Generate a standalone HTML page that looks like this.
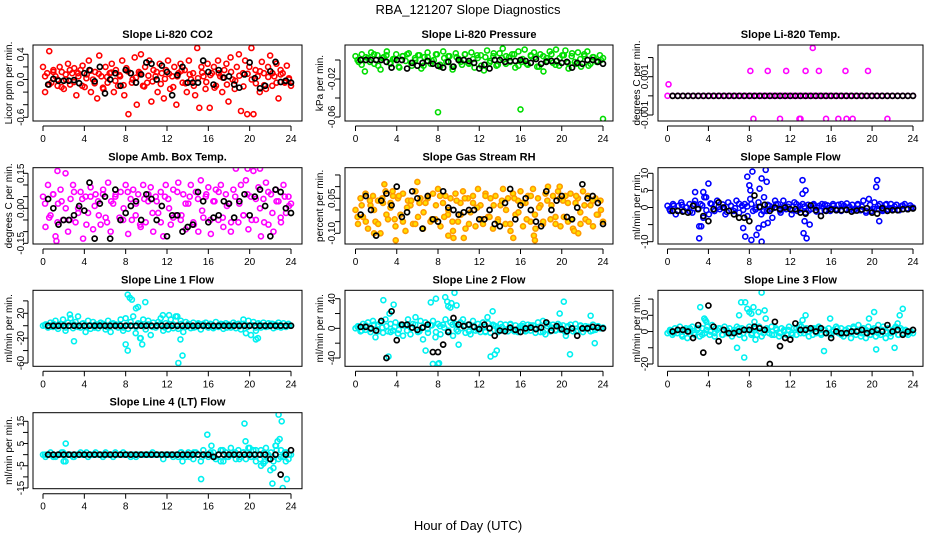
<!DOCTYPE html>
<html><head><meta charset="utf-8"><title>RBA_121207 Slope Diagnostics</title>
<style>
html,body{margin:0;padding:0;background:#fff;}
svg{display:block;font-family:"Liberation Sans",sans-serif;}
</style></head>
<body>
<svg id="chart" width="936" height="540" viewBox="0 0 936 540" xmlns="http://www.w3.org/2000/svg">
<text x="468" y="14" text-anchor="middle" font-size="13">RBA_121207  Slope Diagnostics</text>
<text x="468" y="530" text-anchor="middle" font-size="13">Hour of Day (UTC)</text>
</svg>
<script>
// ---- data ----
const hourTicks = [0,4,8,12,16,20,24];
const co2Band = [0.2,-0.2,0.1,0.45,-0.05,0.15,0.05,-0.1,0.2,0.12,-0.15,0.0,0.25,-0.08,0.1,0.18,-0.25,0.05,0.15,0.22,-0.12,0.08,0.3,-0.2,0.0,0.12,-0.3,0.38,0.05,-0.15,0.2,-0.05,0.1,0.25,-0.2,0.15,-0.1,0.05,0.3,-0.25,0.18,-0.55,0.1,0.0,0.35,-0.4,0.12,0.4,-0.1,0.2,-0.05,0.3,-0.35,0.15,0.05,-0.2,0.25,0.1,-0.3,0.15,0.3,-0.15,0.05,0.2,-0.4,0.1,0.25,-0.05,0.15,-0.2,0.3,0.0,0.1,-0.25,0.5,-0.45,0.2,0.05,-0.15,0.25,-0.45,0.1,0.2,-0.1,0.3,0.05,-0.2,0.15,0.25,-0.35,0.35,0.0,-0.15,0.2,0.4,-0.5,0.1,0.3,-0.55,0.2,0.5,-0.55,0.15,0.05,-0.2,0.28,0.1,-0.15,0.2,0.38,-0.1,0.05,0.25,-0.3,0.15,0.1,-0.05,0.22,0.0,-0.1];
const co2Core = [0.05,-0.08,0.12,0.0,-0.12,0.08,0.15,-0.04,0.1,-0.1,0.02,0.14,-0.06,0.09,-0.13,0.04,0.11,-0.02,0.07,-0.09,0.13,-0.05,0.03,0.1,-0.11,0.06,-0.03,0.12,-0.07,0.01,0.09,-0.12,0.05,0.14,-0.06,0.08,-0.1,0.02,0.11,-0.04,0.07,-0.13,0.1,0.03,-0.08,0.12,-0.02,0.06,-0.11,0.09,0.0,-0.06,0.13,-0.09,0.04,0.1,-0.05,0.08,-0.03,0.02];
const co2Black = [-0.08,0.01,-0.02,-0.02,-0.02,-0.01,-0.06,0.1,0.15,-0.03,0.2,-0.22,0.0,0.1,-0.1,0.15,0.1,-0.05,0.08,0.27,0.25,0.0,0.22,0.12,-0.25,0.07,0.2,-0.05,-0.05,-0.05,0.3,0.12,-0.08,0.15,0.03,0.05,-0.08,-0.13,0.08,0.27,0.02,-0.14,-0.1,0.13,0.28,-0.04,-0.02,-0.05];
const presBand = [0.004,-0.002,0.006,-0.012,0.002,0.008,-0.004,0.005,-0.01,0.003,0.009,-0.003,0.001,0.006,-0.008,0.004,-0.001,0.007,-0.006,0.002,0.005,-0.009,0.003,0.008,-0.004,0.0,0.006,-0.007,0.009,-0.002,0.004,-0.01,0.007,0.001,-0.005,0.006,-0.003,0.008,-0.008,0.002,0.005,-0.011,0.01,-0.001,0.004,-0.006,0.007,0.012,-0.004,0.003,0.006,-0.008,0.009,-0.002,0.011,-0.005,0.004,0.008,-0.007,0.006,-0.012,0.002,0.009,-0.003,0.011,-0.006,0.005,0.01,-0.009,0.004,-0.002,0.008,-0.007,0.006,0.009,-0.004,0.003,-0.001,0.005,0.002];
const presCore = [0.0,-0.005,0.003,-0.002,0.006,-0.006,0.002,0.005,-0.004,0.001,-0.007,0.004,0.006,-0.003,0.0,0.005,-0.006,0.003,-0.001,0.006,-0.005,0.002,0.004,-0.007,0.003,-0.002,0.006,-0.004,0.001,0.005,-0.006,0.003,-0.003,0.007,-0.005,0.002,0.004,-0.002,0.006,-0.006,0.001,-0.004,0.005,0.003,-0.007,0.004,-0.001,0.006,-0.005,0.002,0.005,-0.003,0.007,-0.004,0.001,0.004,-0.006,0.003,-0.002,0.0];
const presOutHours = [8,16,24];
const presOutVals = [-0.055,-0.052,-0.062];
const presBlack = [0,0,0,0,0,-0.002,-0.008,0,0,-0.009,-0.003,-0.006,-0.003,-0.001,-0.004,-0.006,-0.008,-0.002,-0.007,0,0,-0.001,-0.003,-0.009,-0.005,-0.009,0,0,-0.002,-0.001,-0.001,0,-0.001,-0.003,0.001,-0.004,-0.002,-0.001,-0.001,-0.003,-0.002,-0.008,-0.003,-0.004,0,0,-0.002,-0.004];
const tempBand = [0,0,0,0,0,0,0,0,0,0,0,0,0,0,0,0,0,0,0,0,0,0,0,0,0,0,0,0,0,0,0,0,0,0,0,0,0,0,0,0,0,0,0,0,0,0,0,0];
const tempOutHours = [0.1,8.1,9.8,11.6,13.5,14.8,17.4,19.6,14.2,8.4,11.0,12.9,13.0,15.5,16.7,17.5,18.1,21.5];
const tempOutVals = [0.0006,0.0013,0.0013,0.0013,0.0013,0.0013,0.0013,0.0013,0.0025,-0.0012,-0.0012,-0.0012,-0.0012,-0.0012,-0.0012,-0.0012,-0.0012,-0.0012];
const tempBlack = [0,0,0,0,0,0,0,0,0,0,0,0,0,0,0,0,0,0,0,0,0,0,0,0,0,0,0,0,0,0,0,0,0,0,0,0,0,0,0,0,0,0,0,0,0,0,0,0];
const ambBand = [0.05,-0.08,0.1,-0.03,0.06,-0.12,0.02,0.08,-0.05,0.15,-0.1,0.04,0.1,-0.06,0.0,0.07,-0.13,0.05,-0.02,0.09,-0.09,0.06,0.03,-0.07,0.08,-0.04,0.11,-0.1,0.02,0.06,-0.2,0.07,-0.05,0.1,-0.11,0.04,0.08,-0.03,0.06,-0.08,0.1,-0.06,0.03,0.09,-0.1,0.05,-0.02,0.07,-0.12,0.1,0.04,-0.07,0.08,-0.03,0.11,-0.05,0.06,-0.09,0.02,0.1,-0.06,0.07,-0.1,0.12,-0.04,0.05,0.09,-0.11,0.03,0.08,-0.05,0.1,-0.08,0.06,0.02,-0.1,0.08,0.17,-0.06,0.1,-0.03,0.12,-0.09,0.05,0.16,-0.05,0.09,-0.12,0.04,0.11,-0.07,0.06,-0.1,0.08,0.03,-0.06,0.1,-0.02,0.05,0.02];
const ambCore = [0.02,-0.04,0.06,-0.06,0.03,0.0,-0.05,0.07,-0.02,0.04,-0.07,0.05,0.01,-0.03,0.06,-0.06,0.03,0.05,-0.04,0.0,0.07,-0.05,0.02,-0.07,0.04,0.06,-0.02,0.03,-0.06,0.05,0.0,-0.04,0.07,-0.03,0.02,0.05,-0.07,0.04,-0.01,0.06,-0.05,0.03,0.07,-0.04,0.01,-0.06,0.05,0.02,-0.03,0.06,-0.05,0.04,0.0,-0.06,0.07,-0.02,0.03,-0.04,0.05,0.01];
const ambOutHours = [1.4,6.2,19.8,21.0,1.3];
const ambOutVals = [0.16,-0.17,0.17,0.17,-0.14];
const ambBlack = [0.04,0.0,-0.07,-0.05,-0.05,-0.03,0.01,-0.01,0.11,-0.13,0.02,0.05,-0.13,0.08,-0.05,-0.02,0.01,0.03,-0.05,0.06,0.04,-0.05,0.01,-0.12,-0.03,-0.03,-0.1,-0.08,-0.07,0.07,0.03,-0.06,-0.04,-0.03,0.03,0.02,-0.04,0.03,0.06,-0.03,0.05,0.08,0.01,-0.12,0.08,0.07,0.0,-0.02];
const rhBand = [0.0,-0.06,0.05,-0.03,0.07,-0.08,0.02,0.06,-0.05,0.04,-0.1,0.03,0.08,-0.04,0.01,0.06,-0.07,0.05,-0.02,0.07,-0.09,0.04,0.02,-0.06,0.08,-0.03,0.05,-0.08,0.03,0.06,-0.05,0.07,-0.04,0.09,-0.07,0.03,0.06,-0.02,0.05,-0.09,0.07,-0.05,0.03,0.08,-0.08,0.05,-0.01,0.06,-0.07,0.09,0.02,-0.06,0.07,-0.03,0.05,-0.08,0.06,-0.04,0.02,0.09,-0.06,0.05,-0.09,0.07,-0.02,0.04,0.08,-0.07,0.03,0.06,-0.05,0.09,-0.08,0.05,0.02,-0.06,0.07,0.1,-0.04,0.06,-0.03,0.08,-0.07,0.04,0.06,-0.05,0.07,-0.08,0.03,0.05,-0.06,0.08,-0.04,0.06,0.02,-0.07,0.05,-0.02,0.04,-0.05];
const rhCore = [-0.03,0.02,-0.05,0.04,0.0,-0.06,0.05,-0.02,0.03,-0.04,0.06,-0.05,0.01,0.04,-0.06,0.03,-0.01,0.05,-0.04,0.02,0.06,-0.03,0.0,-0.05,0.04,-0.02,0.05,-0.06,0.03,0.01,-0.04,0.06,-0.03,0.02,-0.05,0.04,0.0,-0.06,0.05,-0.01,0.03,-0.04,0.06,-0.02,0.01,-0.05,0.04,0.02,-0.06,0.05,-0.03,0.03,-0.04,0.06,-0.01,0.02,-0.05,0.04,-0.02,0.0];
const rhOutHours = [2.8,3.6,3.9,6.0,9.0,9.5,10.5,15.3,17.3,17.4,19.8,21.2,21.6,1.8];
const rhOutVals = [0.11,0.08,-0.13,0.12,-0.11,-0.12,-0.12,-0.12,-0.11,-0.13,0.1,-0.09,-0.1,-0.1];
const rhBlack = [-0.02,0.06,0.0,-0.11,0.04,0.07,0.02,0.1,-0.03,-0.01,0.08,0.05,-0.08,0.06,-0.04,-0.05,0.08,0.01,0.0,-0.02,-0.01,0.0,0.0,-0.04,-0.04,0.0,-0.06,-0.07,0.03,0.09,-0.04,0.02,0.05,0.0,-0.05,-0.07,0.08,0.0,0.04,0.06,-0.03,-0.04,0.01,0.11,0.05,0.06,0.03,-0.06];
const sampBand = [0.5,-1,1,-2,0.5,1.5,-1,0,1,-1.5,2,-0.5,1,-3,3,-2,1,-1,2,-0.5,0,-2,1.5,0.5,-1,2,-1.5,0.5,1,-2.5,2.5,-1,0,1.5,-2,3,-1,0.5,-3,2,1,-1.5,2,-0.5,1,-2,1.5,-1,0.5,1,-1.5,0.8,-0.5,1,-1.2,0.5,1,-0.8,0.6,-1,1,-0.5,0.8,-1,0.5,1.2,-0.6,0.8,-0.5,1,-0.8,2,-1.5,2.5,-1,1.5,-0.5,1,-1,0.8,-0.6,1,-0.5,0.8,-0.8,0.5,1,-0.5,0.6,0];
const sampCore = [-0.5,0.5,-1,0.8,0,-1.2,1,-0.3,0.6,-0.8,1.2,-1,0.2,0.9,-1.3,0.5,-0.2,1.1,-0.7,0.3,1,-0.6,0,-1.1,0.8,-0.4,0.9,-0.9,0.4,0.2,-0.8,1,-0.5,0.3,-0.9,0.7,0,-1,0.9,-0.2,0.5,-0.7,1,-0.4,0.2,-0.9,0.7,0.3,-1,0.8,-0.5,0.5,-0.6,1,-0.2,0.3,-0.8,0.6,-0.3,0];
const sampOutHours = [2.7,3.1,3.3,3.5,3.6,4.0,7.4,7.8,8.0,8.1,8.3,8.7,8.9,9.0,9.2,9.4,9.6,9.7,13.2,13.3,13.5,13.6,13.2,20.4,20.5,20.7,3.1,7.6,8.2,9.2,9.8,13.4,13.9];
const sampOutVals = [4.5,-9,-5.5,4.5,3,7,-6,9,6.5,5,10.5,-8,-6,5.5,8.5,-5,11,7.5,8,-7.5,5,-9,4,6,8,-4,-5.5,-8.5,-9.5,-10,-4.5,-4,-5];
const sampBlack = [-1,-1,-1.2,-1.5,0.5,-0.5,-2.5,-4,-0.5,1.5,0,-1,-2,-3,-3,-4,3.5,0.2,0.8,-1,0,-0.5,0,-0.5,-0.5,-1.5,-1.8,0.6,-0.8,-2.5,-1,-0.6,-0.8,-0.8,-0.7,-1.2,-0.9,-0.6,-0.2,-1.5,-1.8,-0.2,-1,-0.8,-0.8,-0.5,-0.5,-0.3];
const l1Band = [0,2,-3,5,-2,8,-5,3,10,-8,5,12,-4,6,15,-3,4,-10,8,-5,6,2,-4,5,3,-6,8,-10,4,2,-3,10,-8,12,-5,6,15,-12,4,-20,10,-6,8,-15,5,-3,6,12,-8,4,-6,10,-4,15,-5,8,-10,6,3,-4,5,-2,4,-6,3,5,-3,2,-4,6,-2,3,-5,4,2,-3,5,-4,3,-6,10,-12,8,-15,6,-8,4,-3,5,-2,4,3,-4,2,5,-3,4,-2,3,0];
const l1Core = [1,-2,3,-1,2,-3,0,2,-2,3,-1,1,-3,2,0,-2,3,-1,2,-3,1,0,-2,3,-1,2,-2,1,3,-3,0,2,-1,3,-2,1,-3,2,0,-1,3,-2,1,2,-3,0,2,-1,3,-2,1,-3,2,0,-1,3,-2,1,-1,0];
const l1OutHours = [8.2,8.4,8.6,9.0,9.2,9.9,3.0,2.6,11.6,12.2,13.1,13.3,13.5,13.0,8.0,8.2,9.6,9.4,20.6,20.8];
const l1OutVals = [50,45,42,28,30,38,-25,18,17,17,-60,-22,-48,15,-30,-40,-30,-20,-22,-20];
const l1Black = [0,0,0,0,0,0,0,0,0,0,0,0,0,0,0,0,0,0,0,0,0,0,0,0,0,0,0,0,0,0,0,0,0,0,0,0,0,0,0,0,0,0,0,0,0,0,0,0];
const l2Band = [0,3,-4,6,-2,8,-5,10,-12,5,8,-6,12,-4,6,-3,8,-7,5,-10,4,12,-8,6,15,-5,10,-15,8,-6,4,10,-12,6,-8,5,12,-5,8,-10,6,-4,8,12,-6,5,-8,10,-3,6,-5,8,-4,7,-6,5,3,-5,6,-3,5,-4,6,-2,4,-5,3,6,-4,5,-3,4,-6,8,-5,10,-8,6,-4,5,-3,6,-2,4,-5,3,5,-4,6,-3,4,-5,3,2,-4,5,-2,3,0,1];
const l2Core = [2,-3,4,-1,5,-4,1,3,-5,2,-2,4,-3,0,5,-4,2,-1,4,-5,3,1,-3,5,-2,0,4,-4,2,-1,3,-5,1,4,-3,2,-2,5,-4,0,3,-3,4,-1,2,-5,3,1,-2,4,-3,2,0,-4,3,-1,2,-3,1,0];
const l2OutHours = [2.7,3.3,3.7,3.2,7.3,7.8,8.0,8.7,8.9,9.0,9.2,9.3,9.6,9.8,10,7.5,8.1,6.8,13.1,13.3,13.5,13.7,20.2,20.4,20.8,22.8,23.2,12.8,19.8];
const l2OutVals = [38,20,32,-38,35,40,-48,42,36,30,28,34,48,31,-22,-48,-47,-30,-38,23,-35,-30,36,-10,-35,17,-20,15,20];
const l2Black = [2,2,0,-3,10,-40,23,-16,5,5,1,-2,1,5,-32,-32,-22,-5,14,5,3,5,2,-1,5,0,-10,-3,-4,1,-2,-5,0,1,-1,1,8,-3,3,-1,-4,0,-10,0,0,2,1,0];
const l3Band = [-1,1,-2,2,-1,3,-3,1,-4,2,3,-2,1,-3,2,-1,3,-2,4,-3,1,2,-2,3,-1,2,-3,1,3,-2,2,-4,1,3,-1,2,-2,3,-3,1,2,-1,3,-2,1,-3,2,1,-2,3,-1,2,-2,1,3,-1,2,-3,1,2,-1,3,-2,1,-1,2,-2,1,3,-1,2,-3,1,2,-4,3,-2,4,-3,2,-4,3,-2,1,-3,4,-2,3,-4,2,-3,1,3,-2,2,-1,1,-2,0,-1];
const l3Core = [0,-1,1,-2,2,0,-1,2,-2,1,0,-1,2,-2,1,-1,0,2,-1,1,-2,2,0,-1,1,-2,2,-1,0,1,-2,2,-1,1,0,-2,2,-1,1,-1,0,2,-2,1,-1,2,0,-1,1,-2,2,-1,1,0,-1,2,-2,1,-1,0];
const l3OutHours = [3.2,3.6,3.7,3.8,6.8,7.0,7.2,7.5,7.6,7.8,8.0,8.2,8.4,8.6,8.9,9.2,9.5,9.6,13.2,13.5,15.3,15.9,19.7,20.2,20.4,22.2,22.7,23.0,22.5,12.9,8.5];
const l3OutVals = [15,8,7,6,-10,10,18,-16,18,14,12,11,15,-5,12,24,13,8,7,10,-12,8,8,12,-11,-10,10,14,5,4,6];
const l3Black = [0,1,1,0,-4,4,-13,16,3,-6,1,-1,-1,0,1,1,3,2,1,-20,6,-9,-4,-5,5,1,1,2,0,2,-1,-4,0,-1,-1,0,0,1,-1,0,1,0,4,0,1,-2,0,1];
const l4Band = [0,-1,0,1,0,-1,0,0,1,-3,0,0,-1,0,0,1,0,0,-1,0,0,1,0,0,0,1,0,0,-1,0,0,0,1,0,0,-1,0,0,0,0,0,0,0,0,0,0,0,0,-2,0,0,0,0,0,-1,1,0,-1,1,0,-2,1,0,-3,2,0,-1,0,1,-2,0,2,-3,1,-1,3,0,-2,2,-1,1,-2,3,-1,2,-3,0,2,-4,3,-2,1,-3,4,-2,2,-1,1,-2,0];
const l4Core = [0,0,-1,0,1,0,0,-1,0,0,1,0,0,0,-1,0,0,1,0,0,0,0,-1,0,0,0,1,0,0,0,0,-1,0,1,0,-1,1,0,-1,0,1,-1,0,2,-1,0,1,-2,1,0,-1,2,-2,1,0,-1,2,-1,1,0];
const l4OutHours = [2.2,2.0,15.3,15.9,16.3,13.5,19.5,19.6,20.0,21.1,21.5,22.2,22.3,22.5,22.7,22.8,22.9,23.1,23.2,23.5,23.6,22.0,17.2];
const l4OutVals = [5,-3,-11,9,4,-3,14,6,3,-5,-3,-13,-6,4,6,18,7,15,-15,-3,-11,-7,-3];
const l4Black = [0,0,0,0,0,0,0,0,0,0,0,0,0,0,0,0,0,0,0,0,0,0,0,0,0,0,0,0,0,0,0,0,-1,0,0,0,0,0,0,0,0,0,0,-2,0,-9,0,2];

// ---- layout ----
const cols = [{x0:43,x1:291,l:33,r:302,lab:12,tl:24},{x0:355.5,x1:603,l:345,r:613,lab:323,tl:335},{x0:667.5,x1:913,l:658,r:923,lab:640,tl:648}];
const rows = [{t:45,b:121},{t:167.7,b:244},{t:290.3,b:366.3},{t:412.7,b:488.7}];
const panels = [
 {title:'Slope Li-820 CO2',ylab:'Licor ppm per min.',c:0,r:0,p:[0.4,54.3,-0.6,117.3],ticks:[-0.6,-0.4,-0.2,0,0.2,0.4],labels:['-0.6','0.0','0.4'],lv:[-0.6,0,0.4],col:'#ff0000',fill:'none',band:co2Band,core:co2Core,oh:[],ov:[],blk:co2Black},
 {title:'Slope Li-820 Pressure',ylab:'kPa per min.',c:1,r:0,p:[0,60,-0.06,117],ticks:[-0.06,-0.04,-0.02,0],labels:['-0.06','-0.02'],lv:[-0.06,-0.02],col:'#00dd00',fill:'none',band:presBand,core:presCore,oh:presOutHours,ov:presOutVals,blk:presBlack},
 {title:'Slope Li-820 Temp.',ylab:'degrees C per min.',c:2,r:0,p:[0.001,76.7,-0.001,115],ticks:[-0.001,0,0.001,0.002],labels:['-0.001','0.001'],lv:[-0.001,0.001],col:'#ff00ff',fill:'none',band:tempBand,core:[],oh:tempOutHours,ov:tempOutVals,blk:tempBlack},
 {title:'Slope Amb. Box Temp.',ylab:'degrees C per min.',c:0,r:1,p:[0.15,173.3,-0.15,243.3],ticks:[-0.15,-0.1,-0.05,0,0.05,0.1,0.15],labels:['-0.15','0.00','0.15'],lv:[-0.15,0,0.15],col:'#ff00ff',fill:'none',band:ambBand,core:ambCore,oh:ambOutHours,ov:ambOutVals,blk:ambBlack},
 {title:'Slope Gas Stream RH',ylab:'percent per min.',c:1,r:1,p:[0.05,198.3,-0.10,233.3],ticks:[-0.1,-0.05,0,0.05,0.1,0.15],labels:['-0.10','0.05'],lv:[-0.1,0.05],col:'#ff9a00',fill:'#ffe000',band:rhBand,core:rhCore,oh:rhOutHours,ov:rhOutVals,blk:rhBlack},
 {title:'Slope Sample Flow',ylab:'ml/min per min.',c:2,r:1,p:[10,173.3,-10,241.7],ticks:[-10,-5,0,5,10],labels:['-10','0','5','10'],lv:[-10,0,5,10],col:'#0000ff',fill:'none',band:sampBand,core:sampCore,oh:sampOutHours,ov:sampOutVals,blk:sampBlack},
 {title:'Slope Line 1 Flow',ylab:'ml/min per min.',c:0,r:2,p:[20,313.3,-60,363],ticks:[-60,-40,-20,0,20,40],labels:['-60','-20','20'],lv:[-60,-20,20],col:'#00f0f0',fill:'none',band:l1Band,core:l1Core,oh:l1OutHours,ov:l1OutVals,blk:l1Black},
 {title:'Slope Line 2 Flow',ylab:'ml/min per min.',c:1,r:2,p:[40,298.7,-40,358],ticks:[-40,-20,0,20,40],labels:['-40','0','40'],lv:[-40,0,40],col:'#00f0f0',fill:'none',band:l2Band,core:l2Core,oh:l2OutHours,ov:l2OutVals,blk:l2Black},
 {title:'Slope Line 3 Flow',ylab:'ml/min per min.',c:2,r:2,p:[10,315.3,-20,364],ticks:[-20,-10,0,10,20],labels:['-20','0','10'],lv:[-20,0,10],col:'#00f0f0',fill:'none',band:l3Band,core:l3Core,oh:l3OutHours,ov:l3OutVals,blk:l3Black},
 {title:'Slope Line 4 (LT) Flow',ylab:'ml/min per min.',c:0,r:3,p:[15,421.3,-15,488],ticks:[-15,-10,-5,0,5,10,15],labels:['-15','-5','5','15'],lv:[-15,-5,5,15],col:'#00f0f0',fill:'none',band:l4Band,core:l4Core,oh:l4OutHours,ov:l4OutVals,blk:l4Black}
];
const NS='http://www.w3.org/2000/svg';
const svg=document.getElementById('chart');
function mk(tag,attrs,parent){const e=document.createElementNS(NS,tag);for(const k in attrs)e.setAttribute(k,attrs[k]);parent.appendChild(e);return e;}
function slug(s){return s.toLowerCase().replace(/[^a-z0-9]+/g,'-').replace(/^-|-$/g,'');}
panels.forEach(P=>{
  const C=cols[P.c], R=rows[P.r];
  const xs=h=>C.x0+(C.x1-C.x0)*h/24;
  const ys=v=>P.p[1]+(v-P.p[0])*(P.p[3]-P.p[1])/(P.p[2]-P.p[0]);
  const g=mk('g',{},svg);
  
  
  const cid='clip'+P.c+P.r;
  const cp=mk('clipPath',{id:cid},g);
  mk('rect',{x:C.l,y:R.t,width:C.r-C.l,height:R.b-R.t},cp);
  const pts=mk('g',{'clip-path':'url(#'+cid+')'},g);
  
  
  const n=P.band.length;
  P.band.forEach((v,i)=>{
    const c=mk('circle',{cx:xs(24*i/(n-1)),cy:ys(v),r:2.5,fill:P.fill,stroke:P.col,'stroke-width':1.6},pts);
    
    
  });
  const k=P.core.length;
  P.core.forEach((v,i)=>{
    const c=mk('circle',{cx:xs(24*(i+0.5)/k),cy:ys(v),r:2.5,fill:P.fill,stroke:P.col,'stroke-width':1.6},pts);
    
    
  });
  P.oh.forEach((h,i)=>{
    const c=mk('circle',{cx:xs(h),cy:ys(P.ov[i]),r:2.5,fill:P.fill,stroke:P.col,'stroke-width':1.6},pts);
    
    
  });
  const m=P.blk.length;
  P.blk.forEach((v,i)=>{
    const c=mk('circle',{cx:xs(0.5+23.5*i/(m-1)),cy:ys(v),r:2.5,fill:'none',stroke:'#000','stroke-width':1.7},pts);
    
    
  });
  const box=mk('rect',{x:C.l,y:R.t,width:C.r-C.l,height:R.b-R.t,fill:'none',stroke:'#000','stroke-width':1},g);
  
  
  const t=mk('text',{x:(C.l+C.r)/2,y:R.t-7,'text-anchor':'middle','font-size':11,'font-weight':'bold'},g);
  t.textContent=P.title;
  
  
  const yl=mk('text',{x:C.lab,y:(R.t+R.b)/2,'text-anchor':'middle','font-size':10,transform:'rotate(-90 '+C.lab+' '+((R.t+R.b)/2)+')'},g);
  yl.textContent=P.ylab;
  
  
  const ax=mk('g',{stroke:'#000','stroke-width':1},g);
  
  
  mk('line',{x1:xs(0),x2:xs(24),y1:R.b+5,y2:R.b+5},ax);
  hourTicks.forEach(h=>{
    mk('line',{x1:xs(h),x2:xs(h),y1:R.b+5,y2:R.b+10},ax);
    const tx=mk('text',{x:xs(h),y:R.b+21,'text-anchor':'middle','font-size':10,stroke:'none'},g);
    tx.textContent=h;
    
    
  });
  const yt0=ys(P.ticks[0]), yt1=ys(P.ticks[P.ticks.length-1]);
  mk('line',{x1:C.l-5,x2:C.l-5,y1:yt0,y2:yt1},ax);
  P.ticks.forEach(v=>{mk('line',{x1:C.l-10,x2:C.l-5,y1:ys(v),y2:ys(v)},ax);});
  P.lv.forEach((v,i)=>{
    const px=C.tl, py=ys(v);
    const tx=mk('text',{x:px,y:py,'text-anchor':'middle','font-size':10,transform:'rotate(-90 '+px+' '+py+')'},g);
    tx.textContent=P.labels[i];
    
    
  });
});
</script>
</body></html>
